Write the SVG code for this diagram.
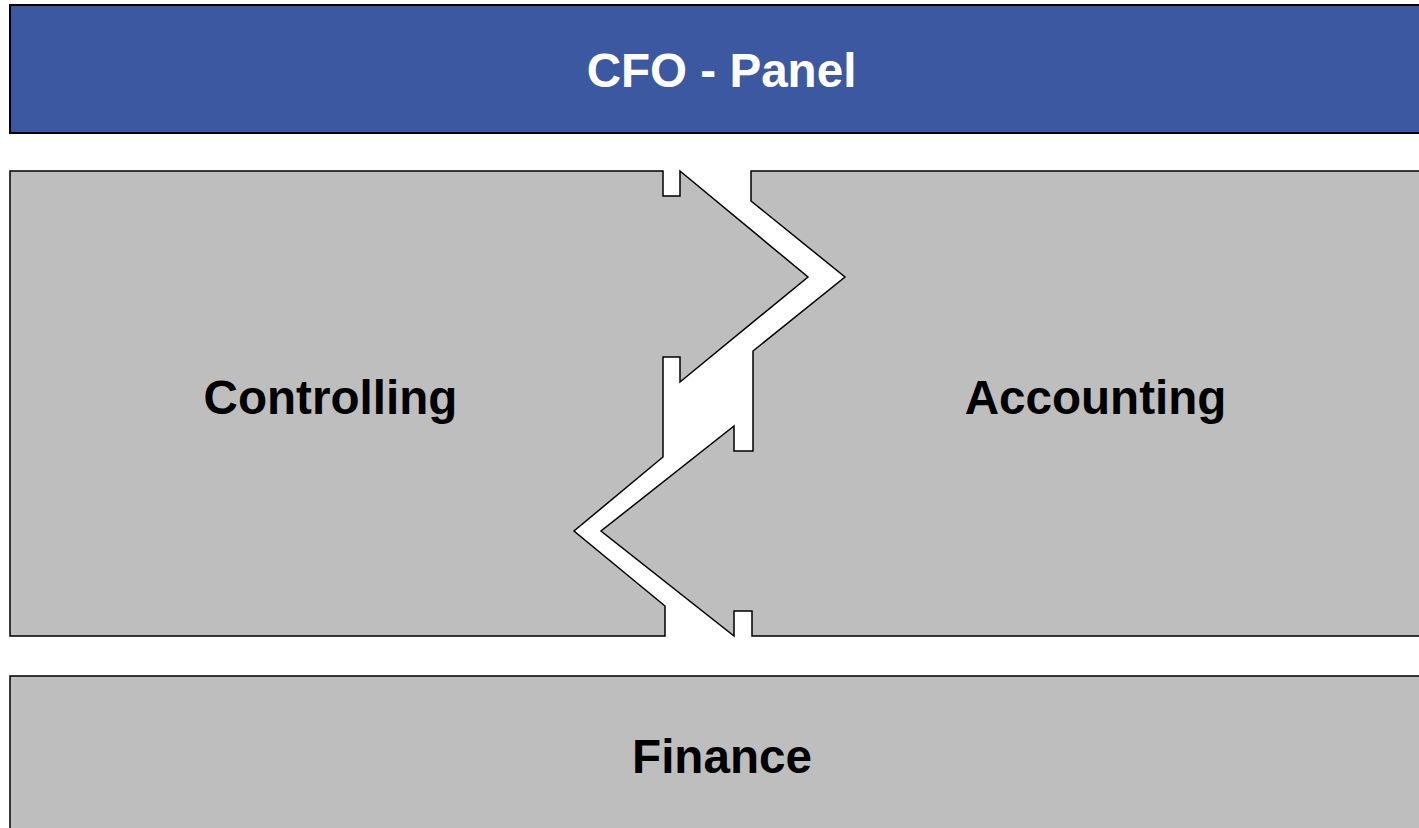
<svg xmlns="http://www.w3.org/2000/svg" width="1419" height="828" viewBox="0 0 1419 828">
<style>
.box{fill:#BEBEBE;stroke:#000;stroke-width:1.5;stroke-linejoin:miter}
.head{fill:#3C58A0;stroke:#000;stroke-width:2}
.lbl{font-family:"Liberation Sans",Arial,sans-serif;font-weight:bold;font-size:47.6px;text-anchor:middle}
</style>
<rect width="1419" height="828" fill="#fff"/>
<g id="cfo-panel">
<rect class="head" x="10" y="5" width="1430" height="128"/>
<text class="lbl" x="721.5" y="87" fill="#fff">CFO - Panel</text>
</g>
<g id="controlling">
<path class="box" d="M10 171 L663 171 L663 196 L680 196 L680 171 L808 277 L680 382 L680 357 L663 357 L663 457 L574 531 L665 606 L665 636 L10 636 Z"/>
<text class="lbl" x="330.5" y="414" fill="#000">Controlling</text>
</g>
<g id="accounting">
<path class="box" d="M1440 171 L751 171 L751 201 L845 277 L753 351 L753 451 L734 451 L734 426 L601 531 L734 636 L734 611 L752 611 L752 636 L1440 636 Z"/>
<text class="lbl" x="1095.5" y="414" fill="#000">Accounting</text>
</g>
<g id="finance">
<rect class="box" x="10" y="676" width="1430" height="200"/>
<text class="lbl" x="722" y="773" fill="#000">Finance</text>
</g>
</svg>
